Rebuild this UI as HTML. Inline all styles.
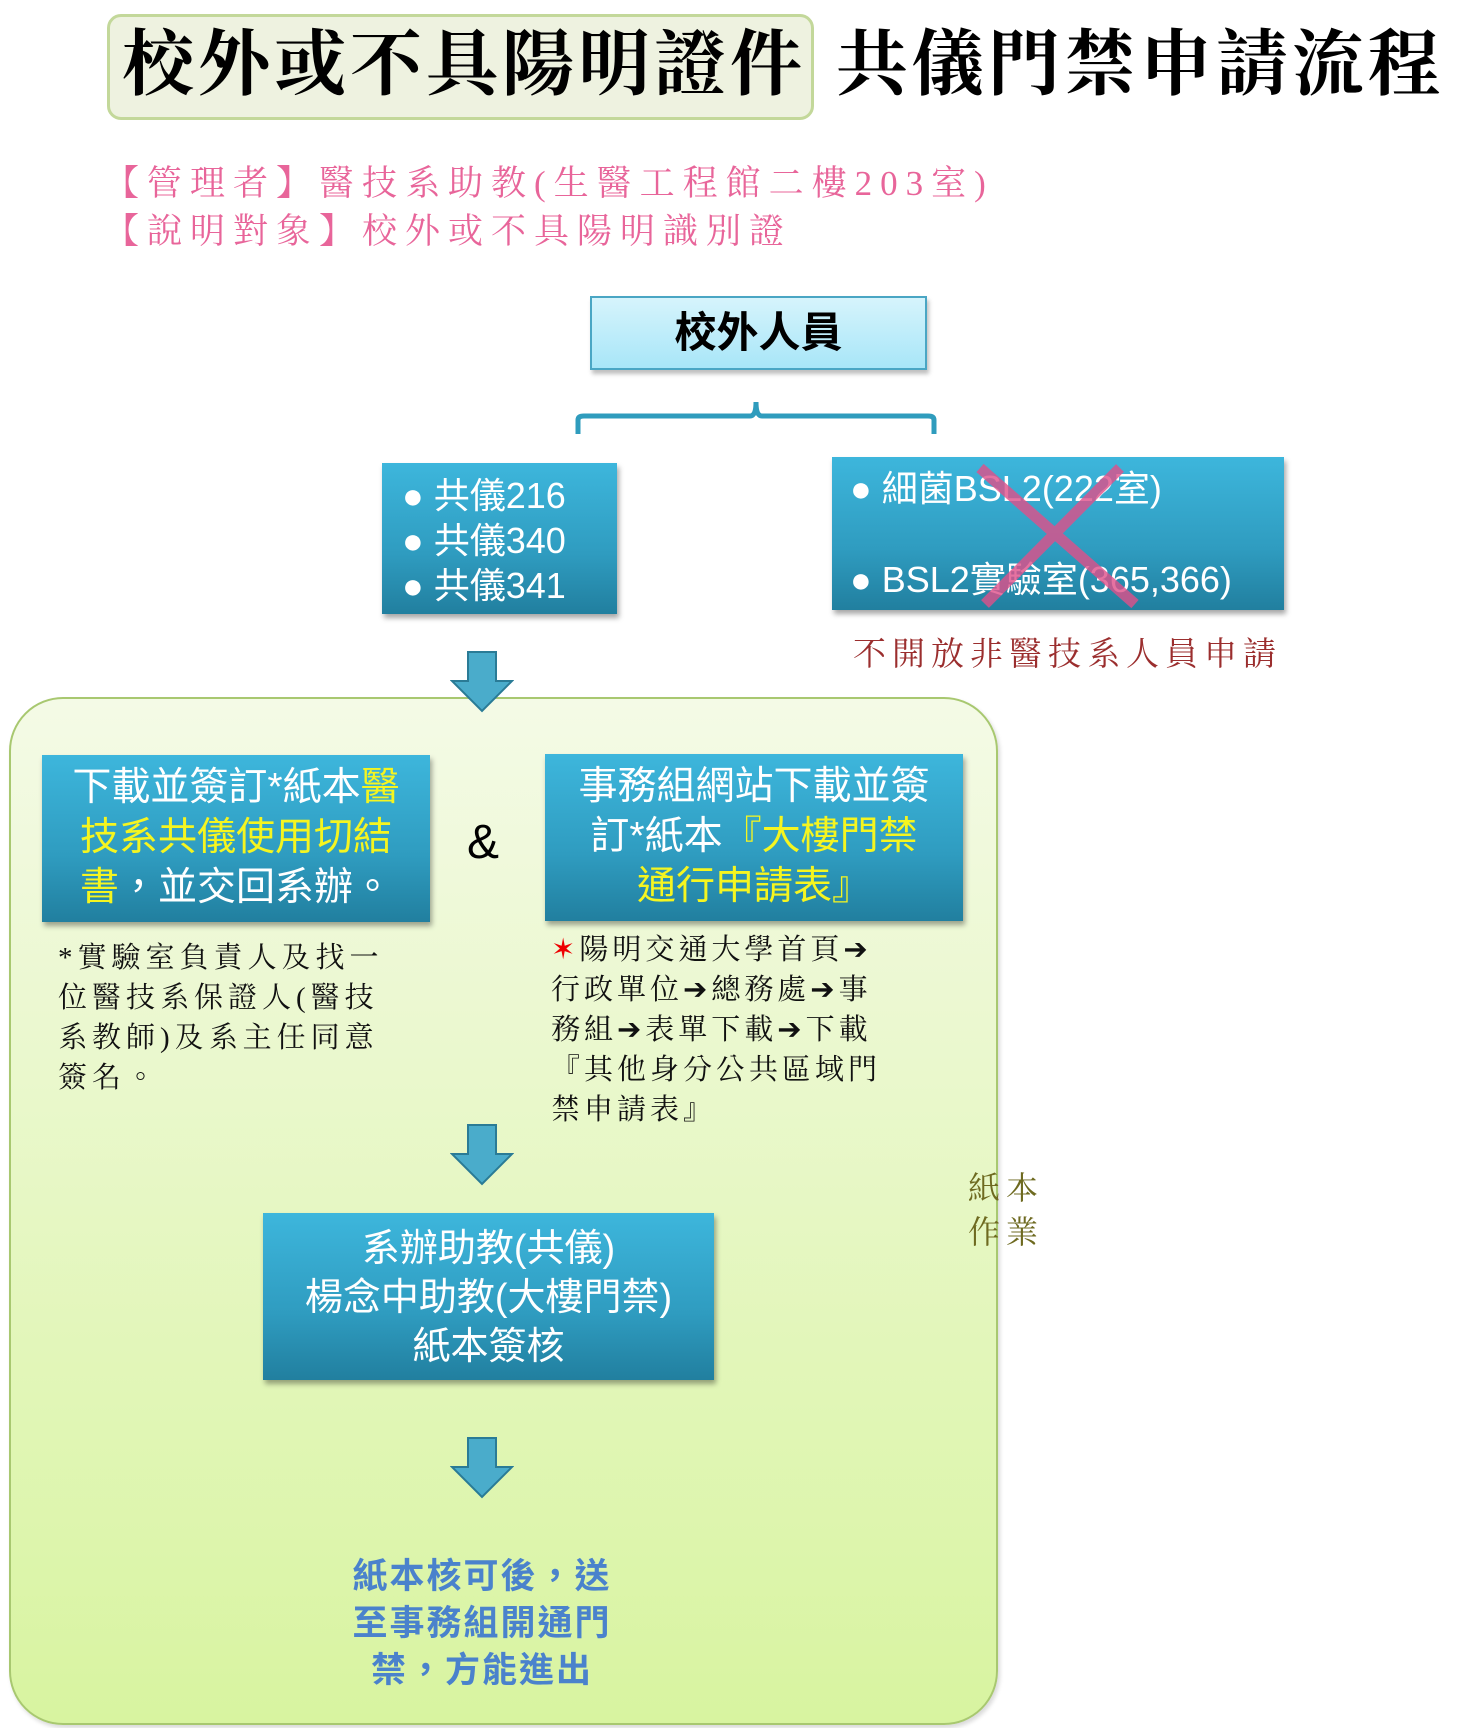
<!DOCTYPE html>
<html><head><meta charset="utf-8"><style>
*{margin:0;padding:0;box-sizing:border-box}
body{width:1473px;height:1728px;background:#fff;position:relative;overflow:hidden;font-family:"Liberation Sans","Noto Sans CJK TC",sans-serif}
.a{position:absolute}
.serif{font-family:"Liberation Serif","Noto Serif CJK TC",serif}
.box{position:absolute;background:linear-gradient(#3db6dc,#2f9cc0 60%,#217f9f);box-shadow:2px 4px 5px rgba(0,0,0,.35);color:#fff;font-size:38px;line-height:48px;text-align:center}
.y{color:#f5f520}
.arrow{position:absolute;width:64px;height:62px}
</style></head><body>
<div class="a" style="left:107px;top:14px;width:707px;height:106px;background:#eef2e0;border:3px solid #c3d89a;border-radius:14px"></div>
<div class="a serif" style="left:122px;top:20px;font-size:72px;font-weight:bold;line-height:90px;white-space:nowrap;color:#000;letter-spacing:4px">校外或不具陽明證件</div>
<div class="a serif" style="left:836px;top:20px;font-size:72px;font-weight:bold;line-height:90px;white-space:nowrap;color:#000;letter-spacing:4px">共儀門禁申請流程</div>
<div class="a serif" style="left:104px;top:160px;font-size:35px;line-height:48px;color:#e8659a;letter-spacing:8px;white-space:nowrap">【管理者】醫技系助教(生醫工程館二樓203室)<br>【說明對象】校外或不具陽明識別證</div>

<div class="a" style="left:590px;top:296px;width:337px;height:74px;background:linear-gradient(#d6f4fc,#a8e6f8);border:2px solid #4aa6c4;box-shadow:2px 4px 4px rgba(0,0,0,.25);font-size:42px;font-weight:bold;text-align:center;line-height:70px">校外人員</div>
<svg class="a" style="left:570px;top:398px" width="370" height="40"><path d="M8 36 V22 Q8 18 14 18 H180 Q186 18 186 4 Q186 18 192 18 H358 Q364 18 364 22 V36" fill="none" stroke="#2f9cbd" stroke-width="5"/></svg>

<div class="box" style="left:382px;top:463px;width:235px;height:151px;text-align:left;padding:10px 0 0 20px;font-size:36px;line-height:45px">● 共儀216<br>● 共儀340<br>● 共儀341</div>
<div class="box" style="left:832px;top:457px;width:452px;height:153px"></div>
<div class="a" style="left:850px;top:443px;color:#fff;font-size:36px;line-height:91px;white-space:nowrap">● 細菌BSL2(222室)<br>● BSL2實驗室(365,366)</div>
<svg class="a" style="left:970px;top:460px" width="180" height="150"><path d="M10 8 L165 144 M150 8 L15 144" stroke="#e0508a" stroke-width="11" opacity=".8"/></svg>
<div class="a serif" style="left:853px;top:628px;font-size:33px;color:#9b2e2e;letter-spacing:6px;white-space:nowrap">不開放非醫技系人員申請</div>

<div class="a" style="left:9px;top:697px;width:989px;height:1028px;border:2px solid #a8c870;border-radius:54px;background:linear-gradient(#f4fae6,#d8f4a0);box-shadow:2px 3px 4px rgba(0,0,0,.15)"></div>

<svg class="arrow" style="left:450px;top:651px" viewBox="0 0 64 62"><path d="M18 1 H46 V30 H62 L32 60 L2 30 H18 Z" fill="#4aaccb" stroke="#2a7b96" stroke-width="2"/></svg>

<div class="box" style="left:42px;top:755px;width:388px;height:167px;padding-top:8px;font-size:39px;line-height:50px">下載並簽訂*紙本<span class="y">醫<br>技系共儀使用切結<br>書</span>，並交回系辦。</div>
<div class="a" style="left:467px;top:815px;font-size:48px">&amp;</div>
<div class="box" style="left:545px;top:754px;width:418px;height:167px;padding-top:8px;font-size:39px;line-height:50px">事務組網站下載並簽<br>訂*紙本<span class="y">『大樓門禁<br>通行申請表』</span></div>

<div class="a serif" style="left:58px;top:938px;font-size:29px;line-height:40px;letter-spacing:5px;color:#111;white-space:nowrap">*實驗室負責人及找一<br>位醫技系保證人(醫技<br>系教師)及系主任同意<br>簽名。</div>
<div class="a serif" style="left:551px;top:930px;font-size:29px;line-height:40px;letter-spacing:4px;color:#111;white-space:nowrap"><span style="color:#e00">✶</span>陽明交通大學首頁➔<br>行政單位➔總務處➔事<br>務組➔表單下載➔下載<br>『其他身分公共區域門<br>禁申請表』</div>

<svg class="arrow" style="left:450px;top:1124px" viewBox="0 0 64 62"><path d="M18 1 H46 V30 H62 L32 60 L2 30 H18 Z" fill="#4aaccb" stroke="#2a7b96" stroke-width="2"/></svg>

<div class="box" style="left:263px;top:1213px;width:451px;height:167px;padding-top:12px;font-size:38px;line-height:49px">系辦助教(共儀)<br>楊念中助教(大樓門禁)<br>紙本簽核</div>

<svg class="arrow" style="left:450px;top:1437px" viewBox="0 0 64 62"><path d="M18 1 H46 V30 H62 L32 60 L2 30 H18 Z" fill="#4aaccb" stroke="#2a7b96" stroke-width="2"/></svg>

<div class="a" style="left:282px;top:1553px;width:400px;text-align:center;font-size:35px;line-height:47px;font-weight:bold;color:#4a82cc;letter-spacing:2px">紙本核可後，送<br>至事務組開通門<br>禁，方能進出</div>

<div class="a serif" style="left:968px;top:1166px;font-size:32px;line-height:44px;color:#6e6a20;letter-spacing:6px">紙本<br>作業</div>
</body></html>
